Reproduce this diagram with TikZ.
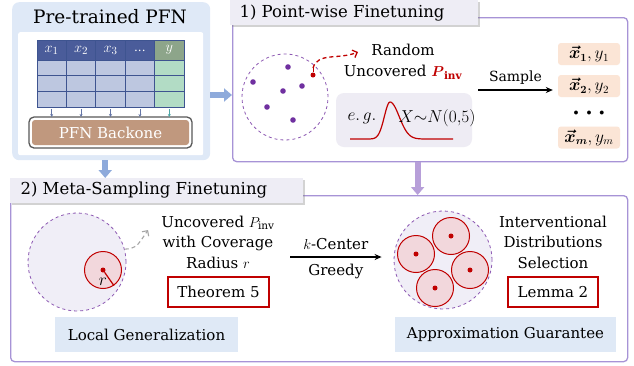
\documentclass[tikz,border=0pt]{standalone}
\usepackage{amsmath}
\usepackage{fontspec}
\setmainfont{DejaVu Serif}
\usetikzlibrary{arrows.meta,shadows,positioning}

\definecolor{pfnbg}{HTML}{DFE9F7}
\definecolor{hdblue}{HTML}{4A5C9A}
\definecolor{hdgreen}{HTML}{8DA58A}
\definecolor{cellblue}{HTML}{BDC7E0}
\definecolor{cellgreen}{HTML}{B2DCC5}
\definecolor{gridblue}{HTML}{3E5490}
\definecolor{backbrown}{HTML}{C0987E}
\definecolor{arrowblue}{HTML}{8EAADB}
\definecolor{arrowpurple}{HTML}{B79FD9}
\definecolor{panelpurple}{HTML}{A793D6}
\definecolor{tabgray}{HTML}{EEEDF5}
\definecolor{dotpurple}{HTML}{7030A0}
\definecolor{darkred}{HTML}{C00000}
\definecolor{peach}{HTML}{FBE5D6}
\definecolor{egray}{HTML}{EEECF4}
\definecolor{lavender}{HTML}{F0EEF7}
\definecolor{pinkfill}{HTML}{F2D7DC}
\definecolor{lightblue}{HTML}{DFE9F6}

\begin{document}
\begin{tikzpicture}[x=1pt,y=-1pt,
  bigfont/.style={font=\fontsize{18.5}{22}\selectfont},
  tabfont/.style={font=\fontsize{16.5}{20}\selectfont},
  bodyfont/.style={font=\fontsize{15}{20.5}\selectfont},
  mathfont/.style={font=\fontsize{17}{19}\selectfont},
  panel/.style={draw=panelpurple,line width=1.3pt,rounded corners=4pt,fill=white,anchor=north west,inner sep=0pt},
  tab/.style={fill=tabgray,anchor=north west,inner sep=0pt,
    drop shadow={shadow xshift=1.5pt,shadow yshift=-1.5pt,opacity=0.35}},
  blockarrow/.style={line width=6pt,-{Triangle[width=13pt,length=8pt]}},
  pool/.style={circle,draw=dotpurple!80,dashed,line width=0.8pt,inner sep=0pt},
  ball/.style={circle,draw=darkred,fill=pinkfill,line width=1pt,inner sep=0pt,minimum size=37},
  reddot/.style={circle,fill=darkred,inner sep=0pt,minimum size=5},
  redbox/.style={draw=darkred,line width=1.6pt,inner sep=0pt,bodyfont},
  infobox/.style={fill=lightblue,inner sep=0pt,bodyfont},
  pairbox/.style={fill=peach,rounded corners=3pt,inner sep=0pt,minimum width=62,minimum height=22,font=\fontsize{16}{18}\selectfont},
  header/.style={text=white,font=\fontsize{15}{17}\selectfont}
]
\useasboundingbox (0,0) rectangle (634,365);

% pre-trained PFN
\node[fill=pfnbg,rounded corners=7pt,minimum width=198,minimum height=158,anchor=north west,inner sep=0pt] (pfn) at (12,2) {};
\node[fill=white,rounded corners=2pt,minimum width=185,minimum height=123,anchor=north west,inner sep=0pt] (pfnin) at (18,32) {};
\node[bigfont] (pfntitle) at (110,17) {Pre-trained PFN};

\foreach \i in {0,...,3} {
  \fill[hdblue] (37+\i*29.4,40) rectangle +(29.4,20);
  \fill[cellblue] (37+\i*29.4,60) rectangle +(29.4,47);
}
\fill[hdgreen] (154.6,40) rectangle (184,60);
\fill[cellgreen] (154.6,60) rectangle (184,107);
\foreach \i in {1,...,4}
  \draw[gridblue,line width=0.8pt] (37+\i*29.4,40) -- (37+\i*29.4,107);
\foreach \j in {60,75.7,91.3}
  \draw[gridblue,line width=0.8pt] (37,\j) -- (184,\j);
\draw[gridblue,line width=0.9pt] (37,40) rectangle (184,107);

\node[header] (h1) at (51.7,50) {$x_1$};
\node[header] (h2) at (81.1,50) {$x_2$};
\node[header] (h3) at (110.5,50) {$x_3$};
\node[header,font=\fontsize{12}{14}\selectfont] (h4) at (139.9,51) {...};
\node[header] (h5) at (169.3,50) {$y$};

\node[draw=black!65,line width=1.3pt,rounded corners=5pt,fill=white,minimum width=163,minimum height=31,inner sep=0pt] (backbone) at (110.5,132.5) {};
\node[fill=backbrown,rounded corners=3pt,minimum width=157,minimum height=25,inner sep=0pt,text=white,font=\fontsize{15}{18}\selectfont] (backtext) at (backbone) {PFN Backone};

\foreach \i in {0,...,3}
  \draw[gridblue!80,line width=0.7pt,-{Stealth[length=3pt,width=3pt]}] (51.7+\i*29.4,109) -- (51.7+\i*29.4,117);
\draw[teal!70,line width=0.7pt,-{Stealth[length=3pt,width=3pt]}] (169.3,109) -- (169.3,117);

% panel 1
\node[panel,minimum width=395,minimum height=144] (fine1) at (232,17) {};
\node[tab,minimum width=248,minimum height=25] (tab1) at (230,0) {};
\node[tabfont,anchor=west] (tab1text) at (236,13) {1) Point-wise Finetuning};

\node[pool,minimum size=86] (pool1) at (285,97) {};
\foreach \x/\y in {288/67,253/82,302/86,283/91,267/107,293/120}
  \fill[dotpurple] (\x,\y) circle (2.8);
\node[reddot] (pick) at (313,75) {};
\coordinate (picktop) at (313,68);
\coordinate (pickend) at (358,52);
\draw[darkred,line width=1pt] (pick) -- (picktop);
\draw[darkred,line width=1.3pt,dash pattern=on 4pt off 3pt,-{Straight Barb[length=4pt,width=8pt]}] (picktop) .. controls (318,52) and (338,60) .. (pickend);

\node[bodyfont,align=center] (random) at (403,62) {Random\\Uncovered \textcolor{darkred}{$\boldsymbol{P}_{\mathbf{inv}}$}};

\node[fill=egray,rounded corners=8pt,minimum width=136,minimum height=54,inner sep=0pt] (eg) at (404,120) {};
\draw[darkred,line width=1.2pt] plot[domain=-40:0,samples=40] ({390+\x},{139-37*exp(-(\x/8)^2)})
  -- plot[domain=0:63,samples=60] ({390+\x},{139-37*exp(-(\x/13)^2)});
\node[mathfont] (egtext) at (362,118) {$e.\,g.$};
\node[mathfont] (law) at (437,118) {$X{\sim}N(0{,}5)$};

\node[pairbox] (s1) at (589,54) {$\boldsymbol{\vec{x}_1},y_1$};
\node[pairbox] (s2) at (589,86) {$\boldsymbol{\vec{x}_2},y_2$};
\node[inner sep=0pt] (sdots) at (589,113) {$\bullet\;\;\bullet\;\;\bullet$};
\node[pairbox] (sm) at (589,137.5) {$\boldsymbol{\vec{x}_m},y_m$};

\draw[line width=1.5pt,-{Stealth[length=7pt,width=6pt]}] ([xshift=6pt,yshift=-4pt]eg.east |- s2.west) -- ([xshift=-5pt,yshift=-4pt]s2.west)
  node[midway,above=2pt,font=\fontsize{14}{16}\selectfont] (samplelabel) {Sample};

% panel 2
\node[panel,minimum width=617,minimum height=166] (fine2) at (10,195) {};
\node[tab,minimum width=293,minimum height=25] (tab2) at (10,178) {};
\node[tabfont,anchor=west] (tab2text) at (17,190) {2) Meta-Sampling Finetuning};

\node[pool,fill=lavender,minimum size=98] (pool2) at (77,262) {};
\node[ball] (cover) at (103,270) {};
\node[reddot] (coverdot) at (cover) {};
\draw[darkred,line width=1.2pt] (coverdot) -- (cover.-55);
\node[inner sep=0pt,mathfont] (rlabel) at (103,282) {$r$};
\coordinate (growend) at (148,230);
\draw[black!35,line width=1.1pt,dash pattern=on 4pt off 3pt,-{Straight Barb[length=4pt,width=8pt]}] (pool2.15) .. controls (136,248) .. (growend);

\node[bodyfont,align=center] (uncov) at (218,242) {Uncovered $P_{\mathrm{inv}}$\\with Coverage\\Radius $r$};
\node[redbox,minimum width=101,minimum height=30] (thm) at (218.5,292) {Theorem 5};
\node[infobox,minimum width=183,minimum height=35] (localgen) at (146.5,334.5) {Local Generalization};

\node[pool,fill=lavender,minimum size=98] (pool3) at (443,260) {};
\foreach \c/\x/\y in {c1/451/236,c2/416/254,c3/470/270,c4/435/288} {
  \node[ball] (\c) at (\x,\y) {};
  \node[reddot] (\c dot) at (\x,\y) {};
}
\node[bodyfont,align=center] (select) at (553,242) {Interventional\\Distributions\\Selection};
\node[redbox,minimum width=90,minimum height=30] (lemma) at (553,292) {Lemma 2};
\node[infobox,minimum width=221,minimum height=35] (approx) at (505.5,334.5) {Approximation Guarantee};

\coordinate (kcstart) at (290,257);
\draw[line width=1.5pt,-{Stealth[length=7pt,width=6pt]}] (kcstart) -- ([xshift=-12pt]pool3.west |- kcstart)
  node[midway,above=3pt,bodyfont] (kclabel) {$k$-Center}
  node[midway,below=3pt,bodyfont] (greedylabel) {Greedy};

% flow arrows
\coordinate (arrowrow) at (0,95);
\draw[blockarrow,arrowblue] (pfn.east |- arrowrow) -- (fine1.west |- arrowrow);
\draw[blockarrow,arrowblue] ([xshift=-6pt]pfn.south) -- ([xshift=-6pt]pfn.south |- tab2.north);
\draw[blockarrow,arrowpurple] ([xshift=-12.5pt]fine1.south) -- ([xshift=-12.5pt]fine1.south |- fine2.north);
\end{tikzpicture}
\end{document}
